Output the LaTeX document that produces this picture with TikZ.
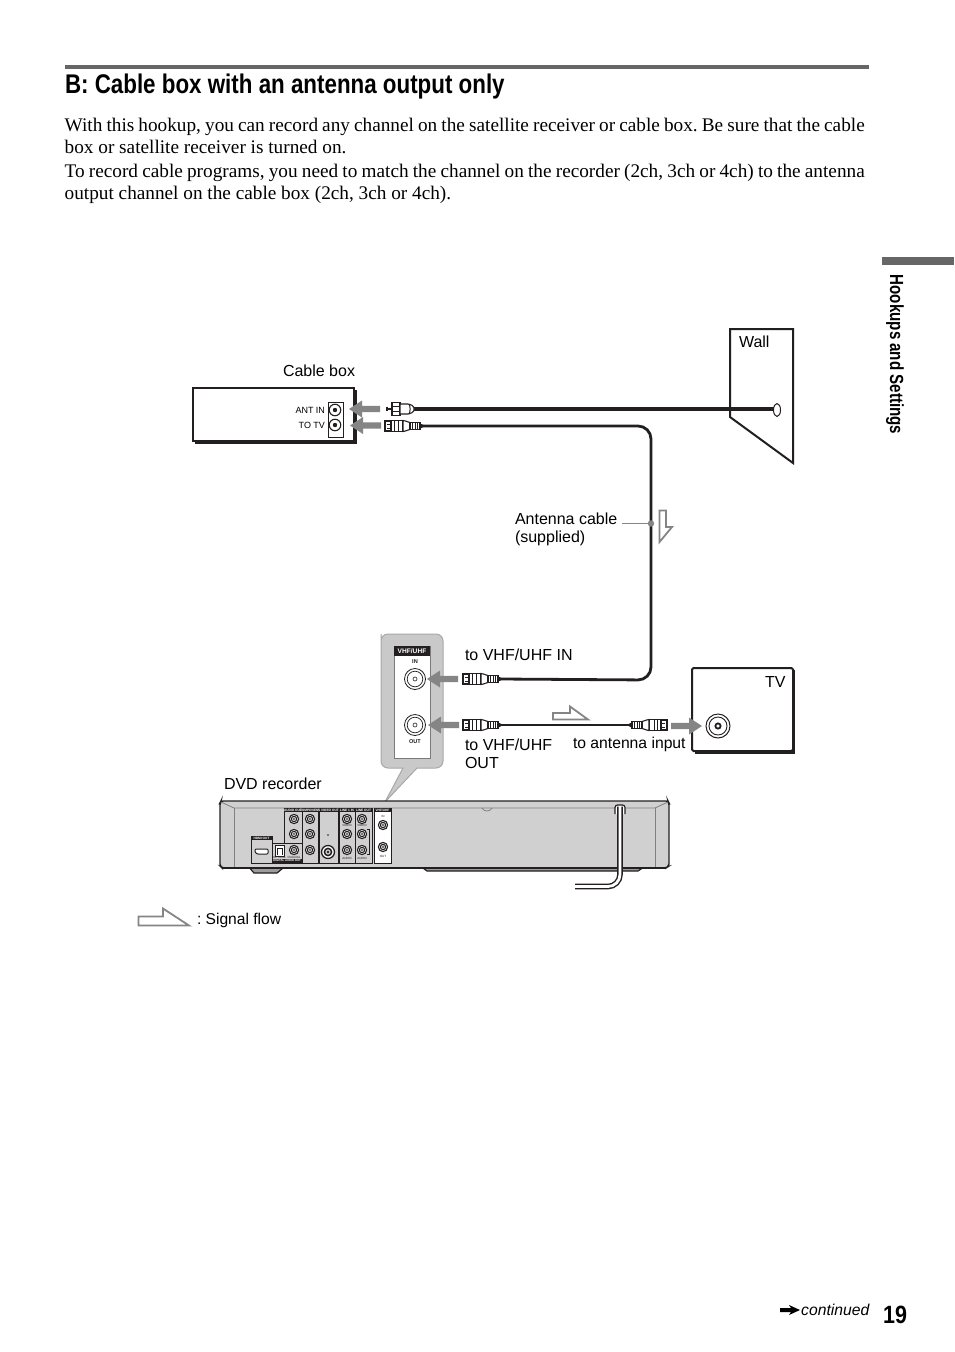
\documentclass[tikz,border=0pt]{standalone}
\usepackage{fontspec}
\setmainfont{Liberation Serif}
\setsansfont{Liberation Sans}
\usetikzlibrary{calc}
\definecolor{rulegray}{HTML}{666666}
\definecolor{arrowgray}{HTML}{858585}
\definecolor{bodygray}{HTML}{D0D0D0}
\definecolor{insetgray}{HTML}{C9C9C9}
\definecolor{edgegray}{HTML}{A8A8A8}
\definecolor{ink}{HTML}{231F20}
\frenchspacing
\tikzset{
  x=1pt,y=-1pt,
  bodytext/.style={anchor=base west,inner sep=0,outer sep=0,font=\fontsize{19.25}{23}\selectfont\rmfamily},
  labeltext/.style={anchor=base west,inner sep=0,outer sep=0,font=\fontsize{16}{18}\selectfont\sffamily},
  minitext/.style={inner sep=0,outer sep=0,font=\fontsize{9}{10}\selectfont\sffamily},
  panelhead/.style={inner sep=0,outer sep=0,text=white,font=\fontsize{3.2}{3.5}\selectfont\sffamily\bfseries},
  paneltext/.style={inner sep=0,outer sep=0,text=ink,font=\fontsize{3}{3.2}\selectfont\sffamily},
  cable/.style={draw=ink,line width=2.8pt,rounded corners=13pt},
  cablethick/.style={draw=ink,line width=4pt},
  flowarrow/.style={draw=arrowgray,line width=1.8pt,fill=white,line join=miter},
  panel/.style={draw=ink,line width=.5pt,fill=bodygray},
  plugline/.style={draw=ink,line width=1.1pt,fill=white},
  pics/grayarrow/.style={code={
    \fill[arrowgray] (0,0) -- (13,-8.5) -- (13,-3.2) -- (31,-3.2) -- (31,3.2) -- (13,3.2) -- (13,8.5) -- cycle;
  }},
  pics/coaxplug/.style={code={
    \draw[plugline] (-37,-5) rectangle (-31,5);
    \draw[ink,line width=.9pt] (-35,-2) -- (-32,-2) (-35,2) -- (-32,2);
    \draw[plugline] (-31,-5.5) rectangle (-19,5.5);
    \draw[ink,line width=1pt] (-27.5,-5.5) -- (-27.5,5.5) (-24,-5.5) -- (-24,5.5);
    \draw[plugline] (-19,-5.5) .. controls (-15,-5) and (-14,-3.5) .. (-12,-3.5) -- (-12,3.5) .. controls (-14,3.5) and (-15,5) .. (-19,5.5) -- cycle;
    \draw[plugline] (-12,-3.5) rectangle (-2,3.5);
    \draw[ink,line width=.9pt] (-9.5,-3.5) -- (-9.5,3.5) (-7,-3.5) -- (-7,3.5) (-4.5,-3.5) -- (-4.5,3.5);
    \fill[ink] (-2,-2.5) -- (1,-1.3) -- (1,1.3) -- (-2,2.5) -- cycle;
  }},
  pics/fplug/.style={code={
    \draw[ink,line width=1.8pt] (-27,-2.4) -- (-27,2.4) (-27,0) -- (-22,0);
    \draw[plugline] (-22,-6.2) rectangle (-14,6.2);
    \draw[ink,line width=1pt] (-22,-2.5) -- (-14,-2.5) (-22,2.5) -- (-14,2.5);
    \draw[plugline] (-14,-5) -- (-6,-5) .. controls (-3,-5) and (-1,-3) .. (0,-1.5) -- (0,1.5) .. controls (-1,3) and (-3,5) .. (-6,5) -- (-14,5) -- cycle;
    \draw[ink,line width=1pt] (-5,-5) .. controls (-3.5,-2) and (-3.5,2) .. (-5,5);
  }},
  pics/smalljack/.style={code={
    \draw[ink,line width=1.1pt,fill=white] (0,0) circle (4.6);
    \draw[ink,line width=1pt,fill=bodygray] (0,0) circle (2.7);
    \fill[ink] (0,0) circle (.8);
  }},
}
\begin{document}
\begin{tikzpicture}
\useasboundingbox (0,0) rectangle (954,1352);
\fill[white] (0,0) rectangle (954,1352);

% ---------- header ----------
\fill[rulegray] (65,65) rectangle (869,69);
\node[anchor=base west,inner sep=0,outer sep=0] (title) at (65,93) {\scalebox{.828}[1]{\fontsize{27}{30}\selectfont\sffamily\bfseries B: Cable box with an antenna output only}};
\node[bodytext] (t1) at (64.7,131) {\hbox to 800pt{With this hookup, you can record any channel on the satellite receiver or cable box. Be sure that the cable}};
\node[bodytext] (t2) at (64.7,153.5) {box or satellite receiver is turned on.};
\node[bodytext] (t3) at (64.7,177) {\hbox to 800pt{To record cable programs, you need to match the channel on the recorder (2ch, 3ch or 4ch) to the antenna}};
\node[bodytext] (t4) at (64.7,199) {output channel on the cable box (2ch, 3ch or 4ch).};

% ---------- side tab ----------
\fill[rulegray] (882,257) rectangle (954,265);
\node[inner sep=0,outer sep=0,rotate=-90] (side) at (895,354.5) {\scalebox{.795}[1]{\fontsize{19}{21}\selectfont\sffamily\bfseries Hookups and Settings}};

% ---------- wall ----------
\draw[ink,line width=2pt,line join=miter,fill=white] (730,329) -- (793,329) -- (793,463) -- (730,417) -- cycle;
\node[labeltext] (walllabel) at (739,347) {Wall};
\draw[ink,line width=1pt,fill=white] (777,410) ellipse [x radius=3.5,y radius=6.5];
\coordinate (wallhole) at (774,409);

% ---------- cable box ----------
\draw[ink,line width=3pt] (195,442) -- (355,442) -- (355,390);
\draw[ink,line width=2pt,fill=white] (193,388) rectangle (354,441);
\node[labeltext] (cablelabel) at (283,376) {Cable box};
\draw[ink,line width=.6pt,fill=white] (328,402) rectangle (343,437);
\foreach \n/\yy in {antin/410,totv/425}{
  \node[circle,draw=ink,line width=1.1pt,fill=white,minimum size=11.5pt,inner sep=0] (\n) at (335,\yy) {};
  \fill[ink] (\n.center) circle (2.2);
}
\node[minitext,anchor=east] (antinlabel) at (325,410) {ANT IN};
\node[minitext,anchor=east] (totvlabel) at (325,425) {TO TV};
\pic at (349,409) {grayarrow};
\pic at (350,425.5) {grayarrow};

% ---------- cables and plugs ----------
\coordinate (fend) at (414,409);
\coordinate (boxplug) at (422,426);
\coordinate (inplug) at (500,679);
\coordinate (outplug) at (500,725);
\coordinate (tvplug) at (630,725);
\draw[cablethick] (fend) -- (wallhole);
\draw[cable] (boxplug) -- (651,426) -- (651,680) -- (inplug);
\draw[ink,line width=2.8pt] (outplug) -- (tvplug);
\pic at (fend) {fplug};
\pic at (boxplug) {coaxplug};
\pic at (inplug) {coaxplug};
\pic at (outplug) {coaxplug};
\pic[xscale=-1] at (tvplug) {coaxplug};

% ---------- antenna cable label ----------
\node[labeltext] (antlabel) at (515,524) {Antenna cable};
\node[labeltext] at (515,542) {(supplied)};
\coordinate (leader) at (622,523.5);
\draw[arrowgray,line width=1.2pt] (leader) -- (651,523.5);
\fill[arrowgray] (651,523.5) circle (3.2);
\draw[flowarrow] (659.5,510.5) -- (666,510.5) -- (666,527) -- (672,527) -- (659.5,542) -- cycle;

% ---------- inset ----------
\draw[edgegray,line width=1pt,fill=insetgray,rounded corners=7pt]
  (381,641) -- (381,768) [sharp corners] -- (403,768) -- (385,802) -- (417,768) [rounded corners=7pt] -- (443,768) -- (443,634) -- (381,634) -- cycle;
\fill[white] (394,646) rectangle (430,758);
\draw[ink!60,line width=.5pt] (394,646) rectangle (430,758);
\fill[ink] (394,646) rectangle (430,656);
\node[inner sep=0,text=white,font=\fontsize{6.6}{7}\selectfont\sffamily\bfseries] (vhflabel) at (412,651) {VHF/UHF};
\node[inner sep=0,text=ink,font=\fontsize{5.6}{6}\selectfont\sffamily\bfseries] (inlabel) at (415,661.5) {IN};
\node[inner sep=0,text=ink,font=\fontsize{5.6}{6}\selectfont\sffamily\bfseries] (outlabel) at (415,741.5) {OUT};
\foreach \n/\yy in {vhfin/679,vhfout/725}{
  \node[circle,draw=ink,line width=.8pt,fill=white,minimum size=21pt,inner sep=0] (\n) at (415,\yy) {};
  \draw[ink,line width=.7pt] (\n.center) circle (7.8);
  \draw[ink,line width=.6pt] (\n.center) circle (2);
}
\pic at (427,679) {grayarrow};
\pic at (428,725) {grayarrow};

\node[labeltext] (l1) at (465,660) {to VHF/UHF IN};
\node[labeltext] (l2) at (465,750) {to VHF/UHF};
\node[labeltext] at (465,768) {OUT};
\node[labeltext,font=\fontsize{15.7}{18}\selectfont\sffamily] (l3) at (573,748) {to antenna input};
\draw[flowarrow] (553,713) -- (570,713) -- (570,706.5) -- (588,719.5) -- (553,719.5) -- cycle;

% ---------- TV ----------
\draw[ink,line width=3pt] (695,752) -- (793.5,752) -- (793.5,670);
\draw[ink,line width=2pt,fill=white,rounded corners=1.5pt] (692,668) rectangle (793,751);
\node[labeltext] (tvlabel) at (765,687) {TV};
\node[circle,draw=ink,line width=1pt,fill=white,minimum size=24pt,inner sep=0] (tvjack) at (718,726) {};
\draw[ink,line width=.9pt] (tvjack.center) circle (9);
\draw[ink,line width=1.8pt] (tvjack.center) circle (2.6);
\pic[xscale=-1] at (702,726) {grayarrow};

% ---------- recorder ----------
\node[labeltext] (dvdlabel) at (224,789) {DVD recorder};
\draw[ink,line width=1.2pt,fill=bodygray!55!black!70] (248,866) -- (254,873) -- (277,873) -- (283,868) -- (423,868) -- (427,871) -- (638,871) -- (644,867) -- cycle;
\fill[white] (283,869.3) rectangle (423,875);
\draw[ink,line width=1.4pt,fill=bodygray,rounded corners=2pt] (221,801) -- (668,801) -- (669,803) -- (669,866) -- (666,868) -- (222,868) -- (220,866) -- (220,803) -- cycle;
\draw[gray,line width=.8pt] (221,802) -- (234,808) -- (655,808) -- (668,802);
\draw[gray,line width=.8pt] (234,808) -- (234,868) (655,808) -- (655,868);
\draw[gray,line width=.8pt] (482,808) .. controls (484,812) and (490,812) .. (492,808);
\draw[ink,line width=2pt] (222,868) -- (666,868);

\draw[panel] (251,836) rectangle (272,863);
\fill[ink] (251,836) rectangle (272,840);
\node[panelhead] (hdmilab) at (261.5,838) {HDMI OUT};
\draw[ink,line width=1pt,fill=white,rounded corners=1pt] (255,849) -- (268,849) -- (268,854) -- (257,854) -- (255,852) -- cycle;

\draw[panel] (284,808) rectangle (302,843);
\fill[ink] (284,808) rectangle (302,812);
\node[panelhead] (aolab) at (293,810) {AUDIO OUT};
\draw[panel] (302,808) rectangle (318,863);
\fill[ink] (302,808) rectangle (318,812);
\node[panelhead] at (310,810) {COMPONENT};
\draw[panel] (272,843) rectangle (302,863);
\fill[ink] (272,859) rectangle (302,863);
\node[panelhead,font=\fontsize{2.8}{3}\selectfont\sffamily\bfseries] (dalab) at (287,861) {DIGITAL AUDIO OUT};
\draw[ink,line width=1pt,fill=white] (275,845.5) rectangle (284,856);
\draw[ink,line width=.7pt] (277,855) -- (277,848) -- (282,848) -- (282,855);
\node[paneltext] at (279.5,857.5) {OPTICAL};
\node[paneltext] at (294,857.5) {COAXIAL};

\draw[panel] (319,808) rectangle (338,863);
\fill[ink] (319,808) rectangle (338,812);
\node[panelhead] (svlab) at (328.5,810) {S VIDEO OUT};
\fill[ink] (328,835) circle (.9);
\draw[ink,line width=1.3pt,fill=white] (328,852) circle (6.5);
\draw[ink,line width=1.5pt,fill=bodygray] (328,852) circle (3.6);
\fill[ink] (328,852) circle (1.4);

\draw[panel] (339,808) rectangle (355,863);
\fill[ink] (339,808) rectangle (355,812);
\node[panelhead] (l1lab) at (347,810) {LINE 1 IN};
\draw[panel] (355,808) rectangle (372,863);
\fill[ink] (355,808) rectangle (372,812);
\node[panelhead] (lolab) at (363.5,810) {LINE OUT};
\draw[ink,line width=.7pt] (367,829) -- (369.5,829) -- (369.5,854) -- (367,854);

\draw[draw=ink,line width=.5pt,fill=white] (374,808) rectangle (391,863);
\fill[ink] (374,808) rectangle (391,812);
\node[panelhead] (vhfsmall) at (382.5,810) {VHF/UHF};
\node[paneltext] at (383,816) {IN};
\node[paneltext] at (383,856) {OUT};
\node[paneltext] at (347,825.5) {VIDEO};
\node[paneltext] at (362,825.5) {VIDEO};
\node[paneltext] at (347,858) {AUDIO};
\node[paneltext] at (362,858) {AUDIO};

\foreach \xx/\yy in {294/819,294/834,294/850,310/819,310/834,310/850,347/819,347/834,347/850,362/819,362/834,362/850,383/825,383/847}{
  \pic at (\xx,\yy) {smalljack};
}

\coordinate (rearjack) at (620,806.5);
\coordinate (rearend) at (575,886.5);
\draw[ink,line width=1.2pt,fill=white,rounded corners=2.5pt] (615,814) -- (615,805) -- (625,805) -- (625,814);
\draw[ink,line width=5.6pt,rounded corners=12pt] (rearjack) -- (620,886.5) -- (rearend);
\draw[white,line width=2.8pt,rounded corners=12pt] ($(rearjack)+(0,-.5)$) -- (620,886.5) -- ($(rearend)+(-1,0)$);

% ---------- legend ----------
\draw[flowarrow] (138.5,916.5) -- (163,916.5) -- (163,908.5) -- (189,925.5) -- (138.5,925.5) -- cycle;
\node[labeltext,font=\fontsize{15.6}{18}\selectfont\sffamily] (legend) at (197,924) {: Signal flow};

% ---------- footer ----------
\fill[black] (780,1308) -- (791,1308) -- (789,1305) -- (800,1310) -- (789,1315) -- (791,1312) -- (780,1312) -- cycle;
\node[anchor=base west,inner sep=0,font=\fontsize{15.7}{17}\selectfont\sffamily\itshape] (cont) at (801,1315.5) {continued};
\node[anchor=base west,inner sep=0] (pageno) at (883,1323) {\scalebox{.86}[1]{\fontsize{25}{27}\selectfont\sffamily\bfseries 19}};
\end{tikzpicture}
\end{document}
